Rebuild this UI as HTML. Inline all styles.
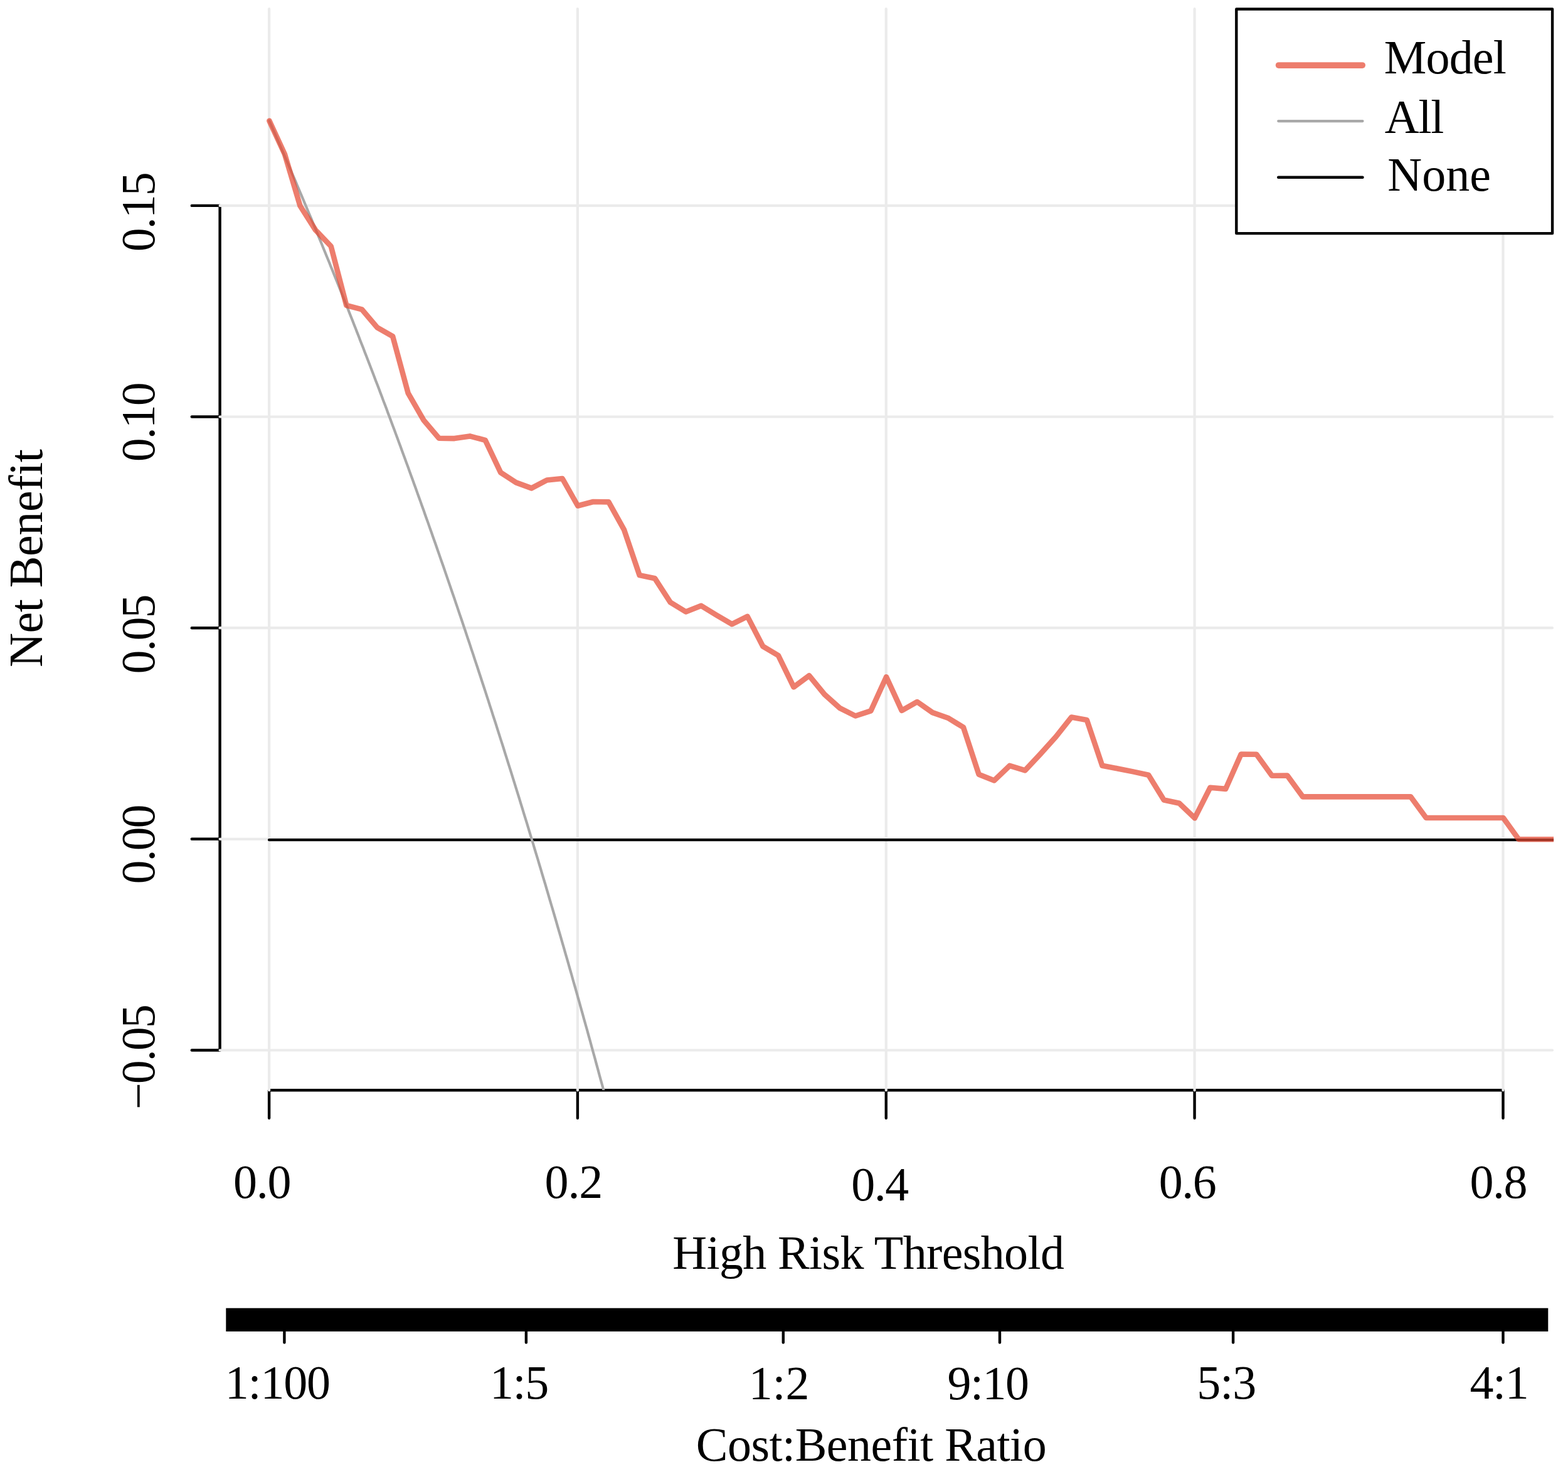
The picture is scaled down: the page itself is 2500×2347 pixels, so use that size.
<!DOCTYPE html>
<html lang="en">
<head>
<meta charset="utf-8">
<title>Decision curve</title>
<style>
html,body{margin:0;padding:0;background:#fff;}
body{width:2500px;height:2347px;overflow:hidden;}
svg{display:block;}
text{font-family:"Liberation Serif","Times New Roman",Times,serif;fill:#000;white-space:pre;}
</style>
</head>
<body>
<svg width="2500" height="2347" viewBox="0 0 2500 2347">
<rect x="0" y="0" width="2500" height="2347" fill="#ffffff"/>
<defs><clipPath id="plot"><rect x="350.6" y="11.2" width="2126.5" height="1727.1"/></clipPath></defs>
<g stroke="#000" stroke-width="4.4" fill="none" stroke-linecap="round">
<line x1="350.6" y1="327.9" x2="350.6" y2="1674.5"/>
<line x1="305.8" y1="327.9" x2="350.6" y2="327.9"/>
<line x1="305.8" y1="664.5" x2="350.6" y2="664.5"/>
<line x1="305.8" y1="1001.2" x2="350.6" y2="1001.2"/>
<line x1="305.8" y1="1337.8" x2="350.6" y2="1337.8"/>
<line x1="305.8" y1="1674.5" x2="350.6" y2="1674.5"/>
<line x1="429.1" y1="1738.3" x2="2396.5" y2="1738.3"/>
<line x1="429.1" y1="1738.3" x2="429.1" y2="1782.7"/>
<line x1="920.9" y1="1738.3" x2="920.9" y2="1782.7"/>
<line x1="1412.8" y1="1738.3" x2="1412.8" y2="1782.7"/>
<line x1="1904.6" y1="1738.3" x2="1904.6" y2="1782.7"/>
<line x1="2396.5" y1="1738.3" x2="2396.5" y2="1782.7"/>
</g>
<g stroke="#ebebeb" stroke-width="4.2" fill="none" stroke-linecap="round">
<line x1="429.1" y1="14.2" x2="429.1" y2="1738.3"/>
<line x1="920.9" y1="14.2" x2="920.9" y2="1738.3"/>
<line x1="1412.8" y1="14.2" x2="1412.8" y2="1738.3"/>
<line x1="1904.6" y1="14.2" x2="1904.6" y2="1738.3"/>
<line x1="2396.5" y1="14.2" x2="2396.5" y2="1738.3"/>
<line x1="350.6" y1="327.9" x2="2475.0" y2="327.9"/>
<line x1="350.6" y1="664.5" x2="2475.0" y2="664.5"/>
<line x1="350.6" y1="1001.2" x2="2475.0" y2="1001.2"/>
<line x1="350.6" y1="1337.8" x2="2475.0" y2="1337.8"/>
<line x1="350.6" y1="1674.5" x2="2475.0" y2="1674.5"/>
</g>
<g clip-path="url(#plot)" fill="none" stroke-linejoin="round" stroke-linecap="round">
<line x1="429.1" y1="1339.1" x2="2600" y2="1339.1" stroke="#000" stroke-width="4.4"/>
<polyline points="429.4,192.6 431.8,198.2 434.3,203.8 436.7,209.4 439.2,215.0 441.6,220.7 444.1,226.3 446.6,232.0 449.0,237.7 451.5,243.3 453.9,249.0 456.4,254.7 458.9,260.5 461.3,266.2 463.8,271.9 466.2,277.7 468.7,283.4 471.2,289.2 473.6,295.0 476.1,300.8 478.5,306.6 481.0,312.4 483.5,318.3 485.9,324.1 488.4,330.0 490.8,335.8 493.3,341.7 495.8,347.6 498.2,353.5 500.7,359.5 503.1,365.4 505.6,371.3 508.0,377.3 510.5,383.3 513.0,389.2 515.4,395.2 517.9,401.2 520.3,407.2 522.8,413.3 525.3,419.3 527.7,425.4 530.2,431.4 532.6,437.5 535.1,443.6 537.6,449.7 540.0,455.8 542.5,462.0 544.9,468.1 547.4,474.3 549.9,480.5 552.3,486.6 554.8,492.8 557.2,499.0 559.7,505.3 562.2,511.5 564.6,517.8 567.1,524.0 569.5,530.3 572.0,536.6 574.4,542.9 576.9,549.2 579.4,555.5 581.8,561.9 584.3,568.2 586.7,574.6 589.2,581.0 591.7,587.4 594.1,593.8 596.6,600.2 599.0,606.7 601.5,613.1 604.0,619.6 606.4,626.1 608.9,632.5 611.3,639.1 613.8,645.6 616.3,652.1 618.7,658.7 621.2,665.2 623.6,671.8 626.1,678.4 628.6,685.0 631.0,691.6 633.5,698.3 635.9,704.9 638.4,711.6 640.8,718.3 643.3,725.0 645.8,731.7 648.2,738.4 650.7,745.1 653.1,751.9 655.6,758.7 658.1,765.4 660.5,772.2 663.0,779.0 665.4,785.9 667.9,792.7 670.4,799.6 672.8,806.5 675.3,813.3 677.7,820.2 680.2,827.2 682.7,834.1 685.1,841.1 687.6,848.0 690.0,855.0 692.5,862.0 695.0,869.0 697.4,876.0 699.9,883.1 702.3,890.2 704.8,897.2 707.3,904.3 709.7,911.4 712.2,918.6 714.6,925.7 717.1,932.9 719.5,940.0 722.0,947.2 724.5,954.4 726.9,961.6 729.4,968.9 731.8,976.1 734.3,983.4 736.8,990.7 739.2,998.0 741.7,1005.3 744.1,1012.7 746.6,1020.0 749.1,1027.4 751.5,1034.8 754.0,1042.2 756.4,1049.6 758.9,1057.1 761.4,1064.5 763.8,1072.0 766.3,1079.5 768.7,1087.0 771.2,1094.5 773.7,1102.1 776.1,1109.6 778.6,1117.2 781.0,1124.8 783.5,1132.4 785.9,1140.1 788.4,1147.7 790.9,1155.4 793.3,1163.1 795.8,1170.8 798.2,1178.5 800.7,1186.2 803.2,1194.0 805.6,1201.8 808.1,1209.6 810.5,1217.4 813.0,1225.2 815.5,1233.1 817.9,1240.9 820.4,1248.8 822.8,1256.7 825.3,1264.7 827.8,1272.6 830.2,1280.6 832.7,1288.6 835.1,1296.6 837.6,1304.6 840.1,1312.6 842.5,1320.7 845.0,1328.8 847.4,1336.9 849.9,1345.0 852.3,1353.1 854.8,1361.3 857.3,1369.5 859.7,1377.7 862.2,1385.9 864.6,1394.1 867.1,1402.4 869.6,1410.7 872.0,1418.9 874.5,1427.3 876.9,1435.6 879.4,1444.0 881.9,1452.3 884.3,1460.7 886.8,1469.2 889.2,1477.6 891.7,1486.1 894.2,1494.6 896.6,1503.1 899.1,1511.6 901.5,1520.1 904.0,1528.7 906.5,1537.3 908.9,1545.9 911.4,1554.5 913.8,1563.2 916.3,1571.9 918.8,1580.6 921.2,1589.3 923.7,1598.0 926.1,1606.8 928.6,1615.6 931.0,1624.4 933.5,1633.2 936.0,1642.0 938.4,1650.9 940.9,1659.8 943.3,1668.7 945.8,1677.7 948.3,1686.6 950.7,1695.6 953.2,1704.6 955.6,1713.7 958.1,1722.7 960.6,1731.8 963.0,1740.9 965.5,1750.0 967.9,1759.2 970.4,1768.3 972.9,1777.5 975.3,1786.7 977.8,1796.0 980.2,1805.3 982.7,1814.5 985.2,1823.9 987.6,1833.2 990.1,1842.6 992.5,1851.9 995.0,1861.4" stroke="#a8a8a8" stroke-width="4.2"/>
<polyline points="429.4,192.6 453.9,245.7 478.5,328.3 503.1,366.9 527.7,392.6 552.3,486.9 576.9,493.3 601.5,522.3 626.1,536.2 650.7,626.8 675.3,669.7 699.9,698.7 724.5,699.1 749.1,695.4 773.7,701.9 798.2,753.3 822.8,769.4 847.4,778.4 872.0,765.5 896.6,763.0 921.2,806.5 945.8,800.0 970.4,800.4 995.0,844.6 1019.6,917.1 1044.2,922.3 1068.8,960.4 1093.4,975.4 1118.0,965.8 1142.5,980.8 1167.1,995.2 1191.7,982.9 1216.3,1030.5 1240.9,1045.1 1265.5,1095.5 1290.1,1077.3 1314.7,1107.2 1339.3,1129.2 1363.9,1141.5 1388.5,1133.3 1413.1,1079.3 1437.7,1132.9 1462.3,1119.0 1486.8,1136.1 1511.4,1144.7 1536.0,1159.7 1560.6,1234.7 1585.2,1244.4 1609.8,1220.8 1634.4,1228.3 1659.0,1202.0 1683.6,1174.7 1708.2,1143.6 1732.8,1147.9 1757.4,1220.8 1782.0,1225.5 1806.6,1230.4 1831.2,1235.8 1855.7,1275.5 1880.3,1280.8 1904.9,1304.4 1929.5,1255.7 1954.1,1257.9 1978.7,1202.6 2003.3,1202.8 2027.9,1236.7 2052.5,1236.6 2077.1,1270.4 2101.7,1270.4 2126.3,1270.4 2150.9,1270.4 2175.5,1270.4 2200.0,1270.4 2224.6,1270.4 2249.2,1270.4 2273.8,1304.0 2298.4,1304.0 2323.0,1304.0 2347.6,1304.0 2372.2,1304.0 2396.8,1304.0 2421.4,1338.2 2446.0,1338.2 2470.6,1338.2 2495.2,1338.2" stroke="#E64B35" stroke-opacity="0.72" stroke-width="8.6"/>
</g>
<rect x="360.3" y="2085.7" width="2108.0" height="37.2" fill="#000"/>
<g stroke="#000" stroke-width="4.4" stroke-linecap="round">
<line x1="453.4" y1="2123" x2="453.4" y2="2140.5"/>
<line x1="838.9" y1="2123" x2="838.9" y2="2140.5"/>
<line x1="1248.8" y1="2123" x2="1248.8" y2="2140.5"/>
<line x1="1594.0" y1="2123" x2="1594.0" y2="2140.5"/>
<line x1="1966.1" y1="2123" x2="1966.1" y2="2140.5"/>
<line x1="2396.5" y1="2123" x2="2396.5" y2="2140.5"/>
</g>
<rect x="1971.3" y="14.5" width="503.8" height="357.6" fill="#fff" stroke="#000" stroke-width="4.4" stroke-linejoin="round"/>
<g fill="none" stroke-linecap="round">
<line x1="2038.6" y1="104.05" x2="2172.2" y2="104.05" stroke="#E64B35" stroke-opacity="0.72" stroke-width="9.7"/>
<line x1="2038.2" y1="193.1" x2="2172.5" y2="193.1" stroke="#a8a8a8" stroke-width="4.2"/>
<line x1="2038.2" y1="282.8" x2="2172.5" y2="282.8" stroke="#000" stroke-width="4.4"/>
</g>
<g>
<text x="371.97" y="1910.00" style="font-size:76px;letter-spacing:-1.200px">0.0</text>
<text x="868.59" y="1910.00" style="font-size:76px;letter-spacing:-1.200px">0.2</text>
<text x="1357.29" y="1914.00" style="font-size:76px;letter-spacing:-1.500px">0.4</text>
<text x="1847.77" y="1910.00" style="font-size:76px;letter-spacing:-1.500px">0.6</text>
<text x="2343.44" y="1910.00" style="font-size:76px;letter-spacing:-1.500px">0.8</text>
<text x="1072.25" y="2023.00" style="font-size:76px;letter-spacing:-0.640px">High Risk Threshold</text>
<text x="1109.86" y="2329.00" style="font-size:76px;letter-spacing:-0.530px">Cost:Benefit Ratio</text>
<text x="358.71" y="2230.00" style="font-size:76px;letter-spacing:-1.200px">1:100</text>
<text x="781.08" y="2230.00" style="font-size:76px;letter-spacing:-1.500px">1:5</text>
<text x="1193.79" y="2231.00" style="font-size:76px;letter-spacing:-0.200px">1:2</text>
<text x="1510.38" y="2231.00" style="font-size:76px;letter-spacing:-1.500px">9:10</text>
<text x="1908.29" y="2230.00" style="font-size:76px;letter-spacing:-1.100px">5:3</text>
<text x="2343.56" y="2230.00" style="font-size:76px;letter-spacing:-1.500px">4:1</text>
<text x="2206.78" y="117.00" style="font-size:76px;letter-spacing:-0.840px">Model</text>
<text x="2207.80" y="212.00" style="font-size:76px;letter-spacing:-1.300px">All</text>
<text x="2212.34" y="304.00" style="font-size:76px;letter-spacing:-0.020px">None</text>
<text transform="translate(246.00,401.35) rotate(-90)" style="font-size:76px;letter-spacing:-2.000px">0.15</text>
<text transform="translate(246.00,736.36) rotate(-90)" style="font-size:76px;letter-spacing:-2.000px">0.10</text>
<text transform="translate(246.00,1074.46) rotate(-90)" style="font-size:76px;letter-spacing:-2.000px">0.05</text>
<text transform="translate(246.00,1409.53) rotate(-90)" style="font-size:76px;letter-spacing:-2.000px">0.00</text>
<text transform="translate(246.00,1769.11) rotate(-90)" style="font-size:76px;letter-spacing:-2.000px">−0.05</text>
<text transform="translate(67.00,1064.03) rotate(-90)" style="font-size:76px;letter-spacing:-0.460px">Net Benefit</text>
</g>
</svg>
</body>
</html>
